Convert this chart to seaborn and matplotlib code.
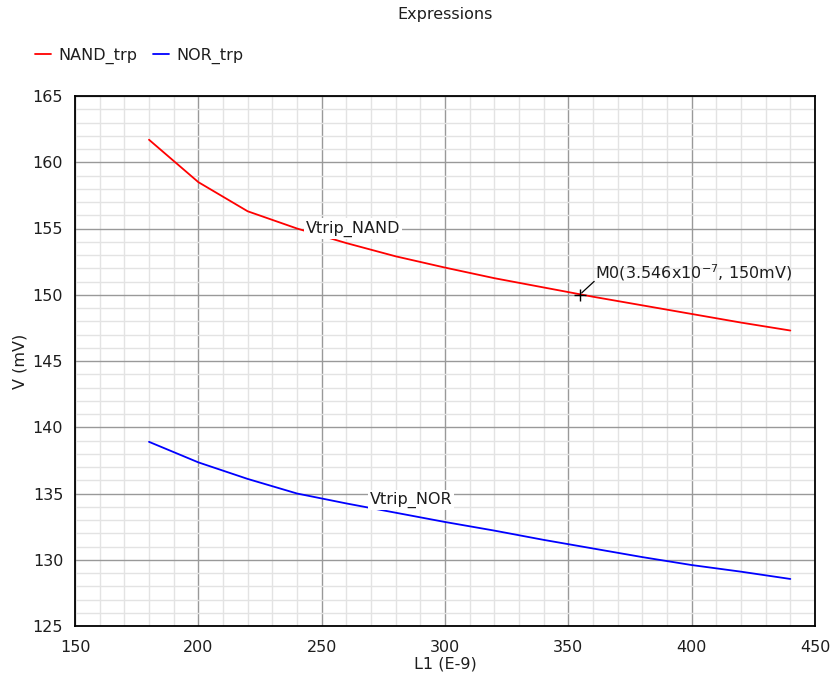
import matplotlib
matplotlib.use("Agg")
import matplotlib.pyplot as plt
from matplotlib.ticker import MultipleLocator
import numpy as np
import pandas as pd
import seaborn as sns

# Swept channel length L1 (nm) and trip voltages (mV)
length_nm = [180, 200, 220, 240, 260, 280, 300, 320, 340, 360, 380, 400, 420, 440]
nand_trp = [161.7, 158.5, 156.3, 155.0, 153.9, 152.9, 152.05, 151.25, 150.55,
            149.85, 149.2, 148.55, 147.9, 147.3]
nor_trp = [138.9, 137.35, 136.1, 135.0, 134.25, 133.55, 132.85, 132.2, 131.5,
           130.85, 130.2, 129.6, 129.1, 128.55]
series_names = ["NAND_trp", "NOR_trp"]
series_colors = ["#ff0000", "#0000ff"]

# Marker M0
m0_x, m0_y = 354.6, 150.0
m0_text = "M0(3.546x10$^{-7}$, 150mV)"

df = pd.DataFrame({
    "L1": length_nm * 2,
    "V": nand_trp + nor_trp,
    "series": [series_names[0]] * len(length_nm) + [series_names[1]] * len(length_nm),
})

sns.set_style("white")
plt.rcParams["font.family"] = ["DejaVu Sans"]
plt.rcParams["mathtext.default"] = "regular"
FS = 11.5
TXT = "#1e1e1e"

fig = plt.figure(figsize=(8.37, 6.85), dpi=100)
ax = fig.add_axes([75 / 837, 1 - 626 / 685, 740 / 837, 530 / 685])

sns.lineplot(data=df, x="L1", y="V", hue="series", hue_order=series_names,
             palette=series_colors, linewidth=1.3, ax=ax, legend=False, zorder=3)

ax.set_xlim(150, 450)
ax.set_ylim(125, 165)
ax.xaxis.set_major_locator(MultipleLocator(50))
ax.xaxis.set_minor_locator(MultipleLocator(10))
ax.yaxis.set_major_locator(MultipleLocator(5))
ax.yaxis.set_minor_locator(MultipleLocator(1))

ax.grid(which="minor", color="#e3e3e3", linewidth=1.0, zorder=0)
ax.grid(which="major", color="#999999", linewidth=1.0, zorder=1)
ax.set_axisbelow(True)

for side in ["left", "bottom", "top", "right"]:
    ax.spines[side].set_color("black")
    ax.spines[side].set_linewidth(1.3)

ax.tick_params(which="major", direction="out", length=5, width=1.1, color="black",
               labelsize=FS, labelcolor=TXT, pad=3.5)
ax.tick_params(which="minor", direction="inout", length=4, width=1.0, color="black")
ax.tick_params(axis="x", which="major", pad=5)

ax.set_xlabel("L1 (E-9)", fontsize=FS, color=TXT)
ax.set_ylabel("V (mV)", fontsize=FS, color=TXT)
ax.xaxis.set_label_coords(0.5, -0.057)
ax.yaxis.set_label_coords(-0.064, 0.5)

# Curve labels
box = dict(facecolor="white", edgecolor="none", pad=1.5)
ax.text(243.5, 155.0, "Vtrip_NAND", fontsize=FS, color=TXT, ha="left", va="center",
        bbox=box, zorder=4)
ax.text(269.5, 134.5, "Vtrip_NOR", fontsize=FS, color=TXT, ha="left", va="center",
        bbox=box, zorder=4)

# Marker M0 with leader line
ax.plot([m0_x], [m0_y], marker="+", color="black", markersize=8, mew=1.0, zorder=5)
ax.annotate("", xy=(m0_x, m0_y), xytext=(361.3, 151.15),
            arrowprops=dict(arrowstyle="-", color="black", lw=0.9), zorder=5)
ax.text(360.8, 151.24, m0_text, fontsize=FS, color=TXT, ha="left", va="baseline",
        zorder=5)

# Title and legend above the plot
fig.text(445 / 837, 1 - 14 / 685, "Expressions", fontsize=FS, color=TXT,
         ha="center", va="center")
handles = [plt.Line2D([], [], color=c, lw=1.3) for c in series_colors]
fig.legend(handles, series_names, loc="center left", bbox_to_anchor=(35 / 837, 1 - 56 / 685),
           ncol=2, frameon=False, fontsize=FS, handlelength=1.0, handletextpad=0.45,
           columnspacing=1.0, borderpad=0, borderaxespad=0, labelcolor=TXT)

fig.savefig("out.png", dpi=100)
